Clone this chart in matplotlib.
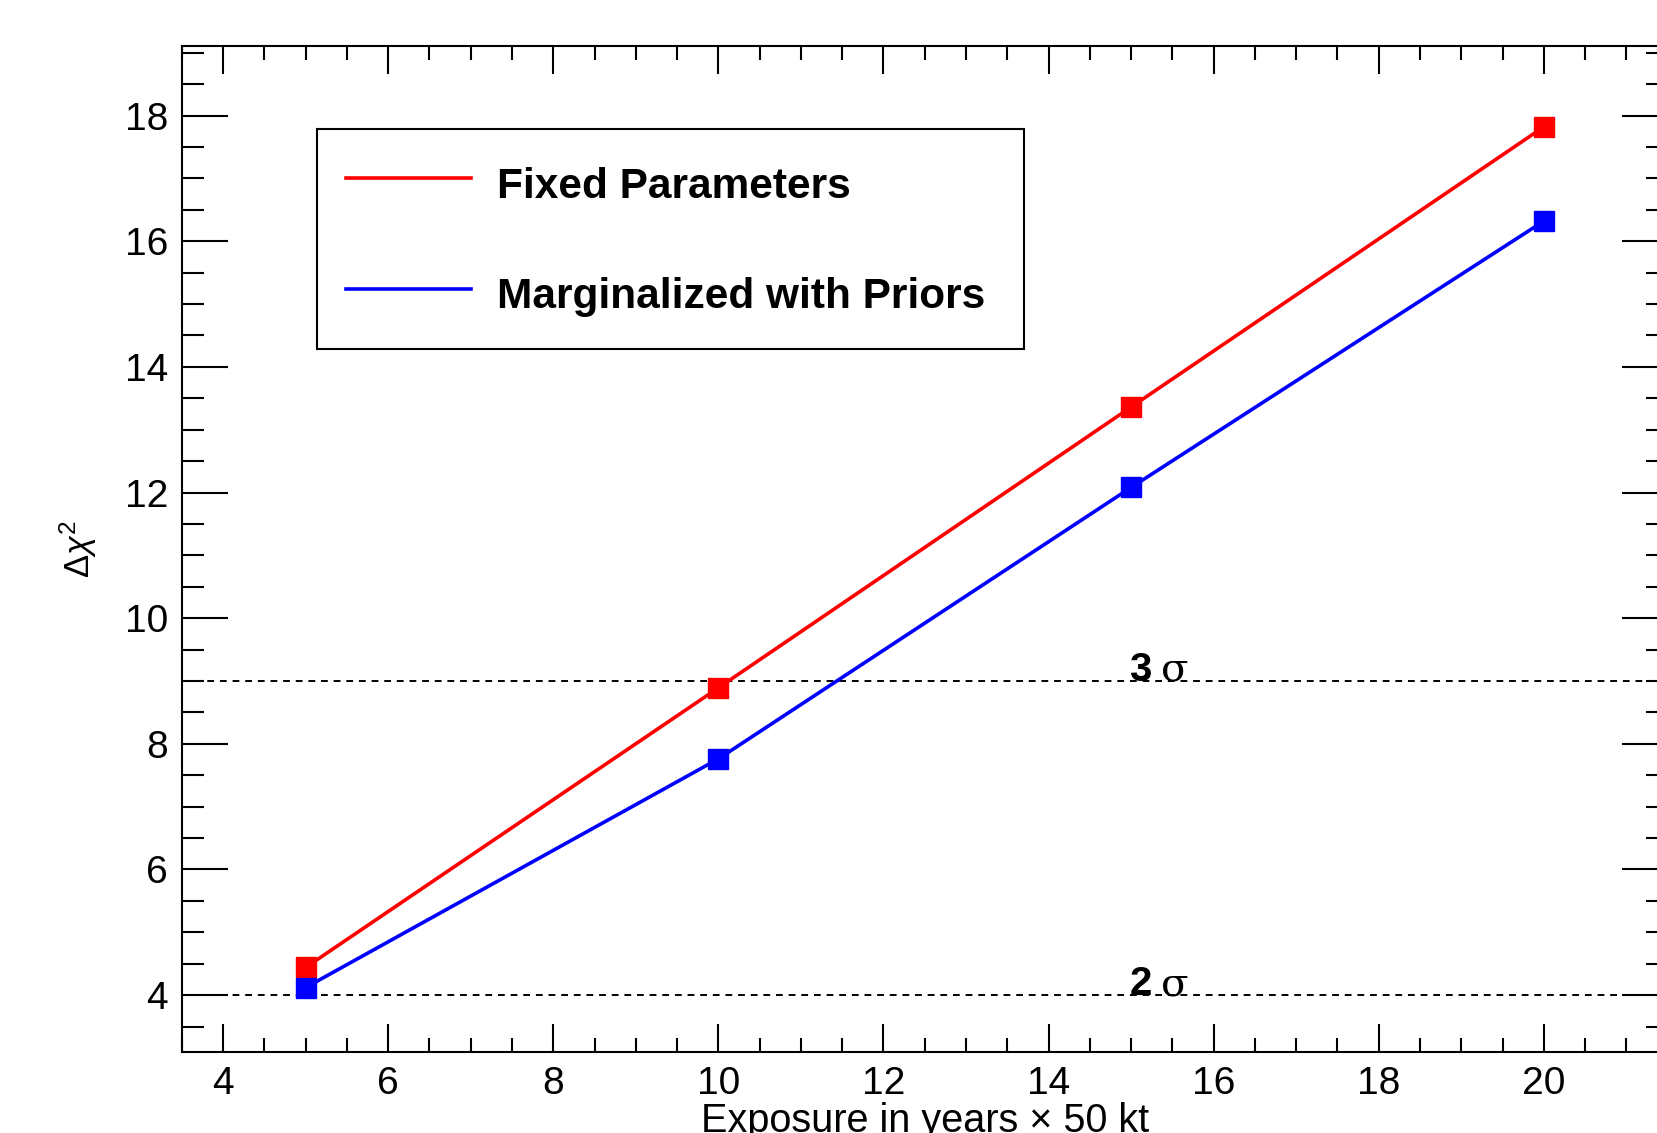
import matplotlib
matplotlib.use("Agg")
import matplotlib.pyplot as plt
from matplotlib.ticker import MultipleLocator

plt.rcParams['font.family'] = ['Liberation Sans', 'DejaVu Sans']
plt.rcParams['mathtext.fontset'] = 'custom'
plt.rcParams['mathtext.rm'] = 'Liberation Sans'
plt.rcParams['mathtext.it'] = 'Liberation Sans:italic'

# exposure (years x 50 kt) and delta chi^2 values
exposure = [5, 10, 15, 20]
chi2_fixed = [4.44, 8.89, 13.36, 17.82]
chi2_marg = [4.12, 7.76, 12.08, 16.32]
sigma_levels = [4, 9]
sigma_labels = ["2", "3"]

fig = plt.figure(figsize=(16.57, 11.33), dpi=100)
ax = fig.add_axes([0.1097, 0.0718, 0.8967, 0.8872])

ax.plot(exposure, chi2_fixed, color='#ff0000', lw=2.6, marker='s', ms=15,
        label='Fixed Parameters', zorder=3)
ax.plot(exposure, chi2_marg, color='#0000ff', lw=2.6, marker='s', ms=15,
        label='Marginalized with Priors', zorder=3)

# significance lines
for lvl, lab in zip(sigma_levels, sigma_labels):
    ax.axhline(lvl, color='black', lw=1.4, ls=(0, (3.5, 3)), zorder=1)
    ax.text(14.98, lvl, lab, fontsize=29, fontweight='bold', va='baseline', ha='left')
    ax.text(15.36, lvl, "σ", fontsize=29, va='baseline', ha='left',
            family=['DejaVu Serif'])

ax.set_xlim(3.5, 21.5)
ax.set_ylim(3.1, 19.1)

ax.xaxis.set_major_locator(MultipleLocator(2))
ax.xaxis.set_minor_locator(MultipleLocator(0.5))
ax.yaxis.set_major_locator(MultipleLocator(2))
ax.yaxis.set_minor_locator(MultipleLocator(0.5))

ax.tick_params(axis='both', which='both', direction='in', top=True, right=True,
               width=1.5, labelsize=28)
ax.tick_params(axis='x', which='major', length=20, pad=10)
ax.tick_params(axis='x', which='minor', length=10)
ax.tick_params(axis='y', which='major', length=33, pad=10)
ax.tick_params(axis='y', which='minor', length=16)
for sp in ax.spines.values():
    sp.set_linewidth(1.5)

ax.set_xlabel("Exposure in years × 50 kt", fontsize=28.5, va='top')
ax.xaxis.set_label_coords(0.5, -0.05)
ax.set_ylabel(r"$\Delta\chi^{2}$", fontsize=25)
ax.yaxis.set_label_coords(-0.056, 0.5)

leg = ax.legend(loc='upper left', bbox_to_anchor=(0.091, 0.699, 0.476, 0.219),
                mode='expand', borderaxespad=0, fancybox=False, framealpha=1,
                edgecolor='black', prop={'weight': 'bold', 'size': 30.5},
                handlelength=2.95, handletextpad=0.62, labelspacing=1.4,
                handleheight=1.5, borderpad=0.68, markerscale=0)
leg.get_frame().set_linewidth(1.5)
for h in leg.legend_handles:
    h.set_marker('')

fig.savefig("out.png", dpi=100)
